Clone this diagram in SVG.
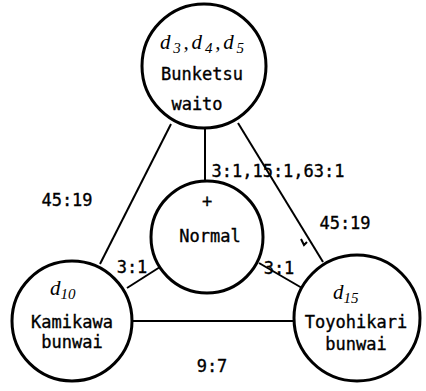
<svg xmlns="http://www.w3.org/2000/svg" width="426" height="391" viewBox="0 0 426 391">
<style>
.node{fill:#fff;stroke:#000;stroke-width:3}
.edge{fill:none;stroke:#000;stroke-width:2}
.t{font-family:"DejaVu Sans Mono","Liberation Mono",monospace;font-size:17px;fill:#000;stroke:#000;stroke-width:0.35;text-anchor:middle}
.d{font-family:"Liberation Serif",serif;font-style:italic;font-size:21px;fill:#000}
.s{font-size:15px}
</style>
<rect width="426" height="391" fill="#fff"/>
<g id="connectors">
<line class="edge" x1="205" y1="128" x2="205" y2="181"/>
<line class="edge" x1="171" y1="124" x2="100" y2="264"/>
<line class="edge" x1="238" y1="123" x2="323" y2="262"/>
<polyline class="edge" points="301,239 304,245 307,242"/>
<line class="edge" x1="160" y1="267" x2="127" y2="288"/>
<line class="edge" x1="259" y1="263" x2="302" y2="288"/>
<line class="edge" x1="132" y1="321" x2="293" y2="321"/>
</g>
<g id="labels">
<text class="t" x="67" y="206">45:19</text>
<text class="t" x="278" y="177">3:1,15:1,63:1</text>
<text class="t" x="345" y="229">45:19</text>
<text class="t" x="132" y="273">3:1</text>
<text class="t" x="279" y="274">3:1</text>
<text class="t" x="212" y="372">9:7</text>
</g>
<g id="bunketsu">
<circle class="node" cx="204" cy="66" r="62"/>
<text class="d" x="160" y="49" textLength="84" lengthAdjust="spacing">d<tspan class="s" dy="4">3</tspan><tspan dy="-4">,d</tspan><tspan class="s" dy="4">4</tspan><tspan dy="-4">,d</tspan><tspan class="s" dy="4">5</tspan></text>
<text class="t" x="202" y="80">Bunketsu</text>
<text class="t" x="197" y="110">waito</text>
</g>
<g id="normal">
<circle class="node" cx="207" cy="237" r="56"/>
<text class="t" x="207" y="207" font-size="14">+</text>
<text class="t" x="210" y="242">Normal</text>
</g>
<g id="kamikawa">
<circle class="node" cx="72" cy="321" r="60"/>
<text class="d" x="50" y="295">d<tspan class="s" dy="4">10</tspan></text>
<text class="t" x="72" y="328">Kamikawa</text>
<text class="t" x="72" y="348">bunwai</text>
</g>
<g id="toyohikari">
<circle class="node" cx="357" cy="318" r="63"/>
<text class="d" x="333" y="299">d<tspan class="s" dy="4">15</tspan></text>
<text class="t" x="356" y="328">Toyohikari</text>
<text class="t" x="356" y="350">bunwai</text>
</g>
</svg>
